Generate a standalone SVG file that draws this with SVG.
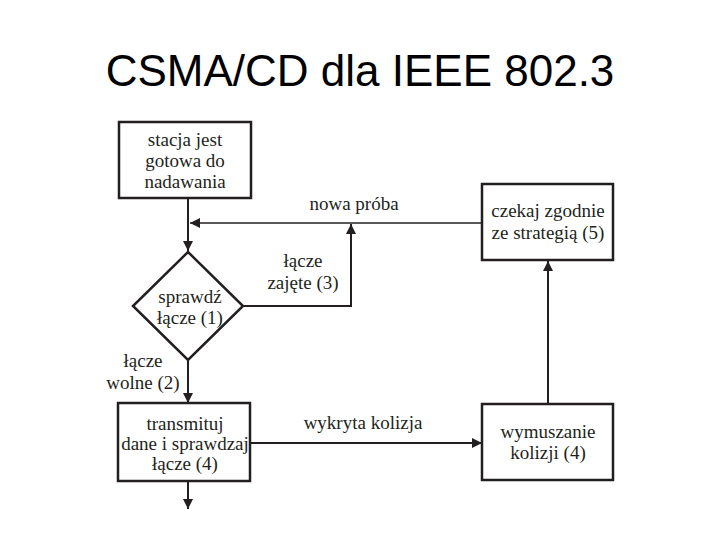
<svg xmlns="http://www.w3.org/2000/svg" width="720" height="540" viewBox="0 0 720 540">
<style>
.box{fill:#fff;stroke:#231f20;stroke-width:2.5}
.t{font-family:'Liberation Serif',serif;font-size:19px;fill:#231f20;text-anchor:middle}
.c{fill:none;stroke:#231f20;stroke-width:2}
.thin{fill:none;stroke:#231f20;stroke-width:1.5}
.title{font-family:'Liberation Sans',Arial,sans-serif;font-size:44px;fill:#000;text-anchor:middle}
</style>
<defs>
<marker id="ah" viewBox="0 0 10 10" refX="10" refY="5" markerWidth="10" markerHeight="10" markerUnits="userSpaceOnUse" orient="auto">
<path d="M0,0 L10,5 L0,10 z" fill="#231f20"/>
</marker>
</defs>
<rect width="720" height="540" fill="#fff"/>
<text class="title" x="360" y="86">CSMA/CD dla IEEE 802.3</text>
<g id="connectors">
<line class="c" x1="188" y1="198" x2="188" y2="251" marker-end="url(#ah)"/>
<line class="thin" x1="482" y1="223" x2="190" y2="223" marker-end="url(#ah)"/>
<polyline class="c" points="243,306 351,306 351,224" marker-end="url(#ah)"/>
<line class="c" x1="188" y1="360" x2="188" y2="403" marker-end="url(#ah)"/>
<line class="c" x1="250" y1="443" x2="482" y2="443" marker-end="url(#ah)"/>
<line class="c" x1="548" y1="404" x2="548" y2="261" marker-end="url(#ah)"/>
<line class="c" x1="188" y1="481" x2="188" y2="509" marker-end="url(#ah)"/>
<text class="t" x="354" y="210" font-family="Liberation Serif">nowa próba</text>
<text class="t" x="303" y="267">łącze</text>
<text class="t" x="303" y="289">zajęte (3)</text>
<text class="t" x="143" y="367">łącze</text>
<text class="t" x="143" y="389">wolne (2)</text>
<text class="t" x="363" y="429">wykryta kolizja</text>
</g>
<g id="start">
<rect class="box" x="119" y="122" width="132" height="76"/>
<text class="t" x="185" y="146">stacja jest</text>
<text class="t" x="185" y="167">gotowa do</text>
<text class="t" x="185" y="188">nadawania</text>
</g>
<g id="check">
<polygon class="box" points="188,252 243,306 188,360 133,306"/>
<text class="t" x="190" y="303">sprawdź</text>
<text class="t" x="190" y="324">łącze (1)</text>
</g>
<g id="transmit">
<rect class="box" x="118" y="403" width="132" height="78"/>
<text class="t" x="185" y="430">transmituj</text>
<text class="t" x="185" y="450">dane i sprawdzaj</text>
<text class="t" x="185" y="470">łącze (4)</text>
</g>
<g id="jam">
<rect class="box" x="482" y="404" width="131" height="76"/>
<text class="t" x="548" y="438">wymuszanie</text>
<text class="t" x="548" y="459">kolizji (4)</text>
</g>
<g id="wait">
<rect class="box" x="482" y="184" width="131" height="76"/>
<text class="t" x="548" y="217">czekaj zgodnie</text>
<text class="t" x="548" y="239">ze strategią (5)</text>
</g>
</svg>
